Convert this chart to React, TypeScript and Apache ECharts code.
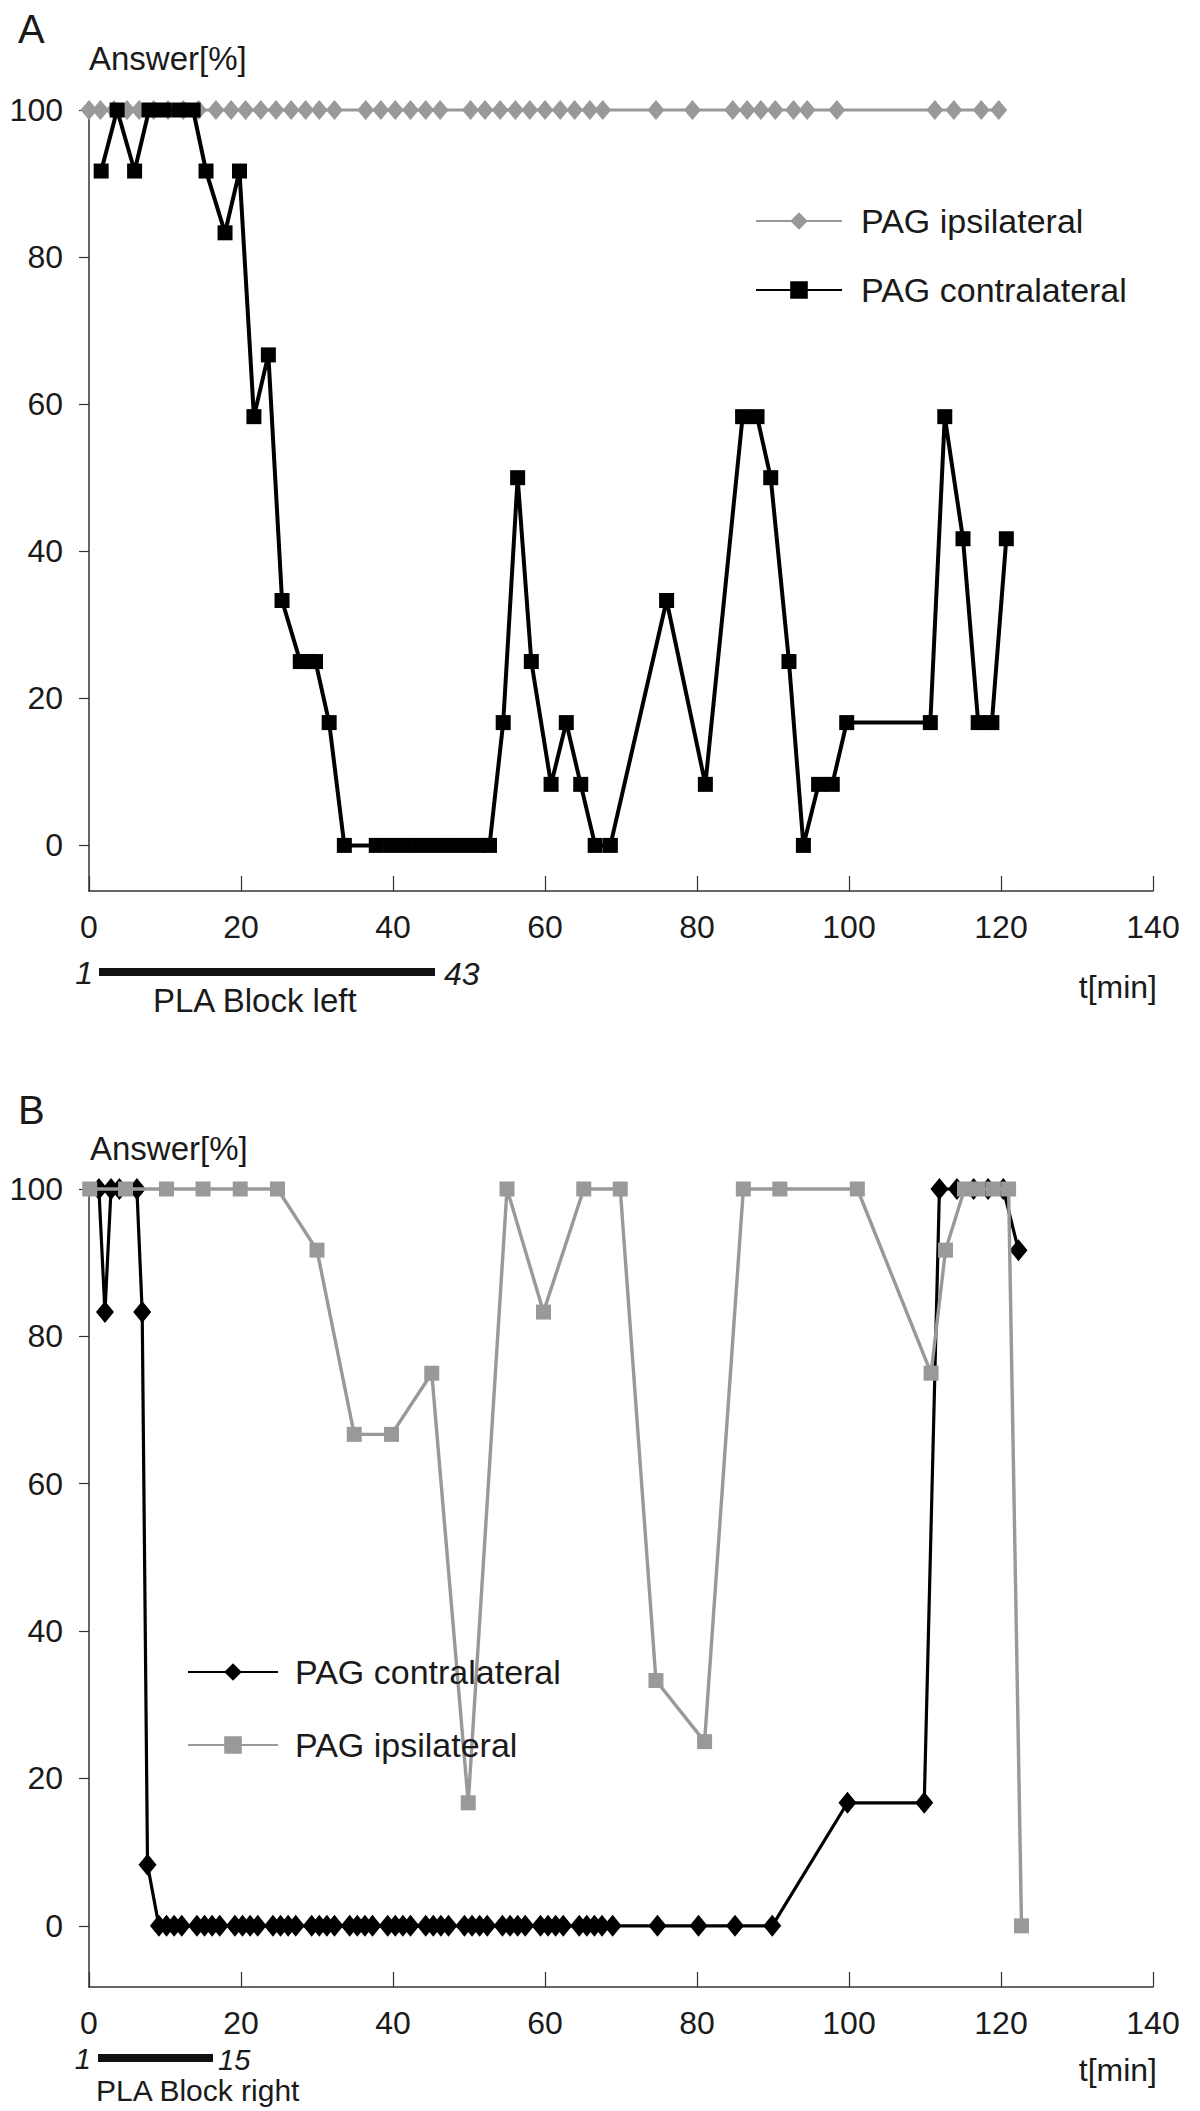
import React, { useEffect, useRef } from "react";
import * as echarts from "echarts";

const FONT = "'Liberation Sans', Arial, Helvetica, sans-serif";
const TEXT = "#1a1a1a";
const GREY = "#999999";
const BLACK = "#000000";

// ---------- Panel A (PLA block left) ----------
const ipsiA_t = [0, 1.5, 3.3, 5.0, 6.6, 8.5, 10.4, 12.4, 14.4, 16.7, 18.7, 20.6, 22.6, 24.6, 26.6, 28.5, 30.3, 32.3, 36.4, 38.4, 40.3, 42.3, 44.3, 46.2, 50.2, 52.1, 54.1, 56.1, 58.0, 60.0, 62.0, 63.9, 65.9, 67.6, 74.6, 79.4, 84.7, 86.6, 88.4, 90.3, 92.7, 94.5, 98.4, 111.3, 113.8, 117.4, 119.7];
const ipsiA_v = [100, 100, 100, 100, 100, 100, 100, 100, 100, 100, 100, 100, 100, 100, 100, 100, 100, 100, 100, 100, 100, 100, 100, 100, 100, 100, 100, 100, 100, 100, 100, 100, 100, 100, 100, 100, 100, 100, 100, 100, 100, 100, 100, 100, 100, 100, 100];

const contraA_t = [1.6, 3.7, 6.0, 7.9, 9.8, 11.8, 13.7, 15.4, 17.9, 19.8, 21.7, 23.6, 25.4, 27.8, 28.8, 29.8, 31.6, 33.6, 37.8, 39.7, 41.6, 43.5, 45.4, 47.3, 49.2, 51.1, 52.7, 54.5, 56.4, 58.2, 60.8, 62.8, 64.7, 66.6, 68.6, 76.0, 81.1, 86.0, 87.9, 89.7, 92.1, 94.0, 96.0, 97.8, 99.7, 110.7, 112.6, 115.0, 117.0, 118.8, 120.7];
const contraA_v = [91.7, 100, 91.7, 100, 100, 100, 100, 91.7, 83.3, 91.7, 58.3, 66.7, 33.3, 25, 25, 25, 16.7, 0, 0, 0, 0, 0, 0, 0, 0, 0, 0, 16.7, 50, 25, 8.3, 16.7, 8.3, 0, 0, 33.3, 8.3, 58.3, 58.3, 50, 25, 0, 8.3, 8.3, 16.7, 16.7, 58.3, 41.7, 16.7, 16.7, 41.7];

// ---------- Panel B (PLA block right) ----------
const contraB_t = [1.3, 2.1, 2.9, 4.0, 6.3, 7.0, 7.7, 9.2, 10.2, 11.2, 12.2, 14.2, 15.2, 16.2, 17.2, 19.2, 20.2, 21.2, 22.2, 24.2, 25.2, 26.2, 27.2, 29.3, 30.3, 31.3, 32.3, 34.3, 35.3, 36.3, 37.3, 39.3, 40.3, 41.3, 42.3, 44.3, 45.3, 46.3, 47.3, 49.4, 50.4, 51.4, 52.4, 54.4, 55.4, 56.4, 57.4, 59.4, 60.4, 61.4, 62.4, 64.5, 65.5, 66.5, 67.5, 68.9, 74.8, 80.2, 85.0, 89.9, 99.8, 109.9, 111.9, 114.2, 116.4, 118.3, 120.3, 122.3];
const contraB_v = [100, 83.3, 100, 100, 100, 83.3, 8.3, 0, 0, 0, 0, 0, 0, 0, 0, 0, 0, 0, 0, 0, 0, 0, 0, 0, 0, 0, 0, 0, 0, 0, 0, 0, 0, 0, 0, 0, 0, 0, 0, 0, 0, 0, 0, 0, 0, 0, 0, 0, 0, 0, 0, 0, 0, 0, 0, 0, 0, 0, 0, 0, 16.7, 16.7, 100, 100, 100, 100, 100, 91.7];

const ipsiB_t = [0.1, 4.8, 10.2, 15.0, 19.9, 24.8, 30.0, 34.9, 39.8, 45.1, 49.9, 55.0, 59.8, 65.1, 69.9, 74.6, 81.0, 86.1, 90.9, 101.1, 110.8, 112.7, 115.2, 117.0, 119.0, 121.0, 122.7];
const ipsiB_v = [100, 100, 100, 100, 100, 100, 91.7, 66.7, 66.7, 75, 16.7, 100, 83.3, 100, 100, 33.3, 25, 100, 100, 100, 75, 91.7, 100, 100, 100, 100, 0];

// ---------- Axes ----------
const xTickValues = [0, 20, 40, 60, 80, 100, 120, 140];
const yTickValues = [0, 20, 40, 60, 80, 100];
const xMin = 0;
const xMax = 140;
const yMinA = -6.2;
const yMinB = -8.3;
const yMax = 100;

const LEGEND_A = ["A|PAG ipsilateral", "A|PAG contralateral"];
const LEGEND_B = ["B|PAG contralateral", "B|PAG ipsilateral"];

const pairs = (t: number[], v: number[]) => t.map((x, i) => [x, v[i]]);

function xAxisCfg(gridIndex: number) {
  return {
    type: "value",
    gridIndex,
    min: xMin,
    max: xMax,
    interval: 20,
    axisLine: { show: true, onZero: false, lineStyle: { color: "#333", width: 1.5 } },
    axisTick: { show: true, inside: true, length: 15, lineStyle: { color: "#333", width: 1.2 } },
    axisLabel: {
      fontSize: 32,
      color: TEXT,
      margin: 20,
      fontFamily: FONT,
      formatter: (v: number) => (xTickValues.includes(v) ? String(v) : ""),
    },
    splitLine: { show: false },
  };
}

function yAxisCfg(gridIndex: number, min: number) {
  return {
    type: "value",
    gridIndex,
    min,
    max: yMax,
    axisLine: { show: true, onZero: false, lineStyle: { color: "#333", width: 1.5 } },
    axisTick: {
      show: true,
      inside: false,
      length: 10,
      customValues: yTickValues,
      lineStyle: { color: "#333", width: 1.2 },
    },
    axisLabel: {
      customValues: yTickValues,
      fontSize: 32,
      color: TEXT,
      margin: 26,
      fontFamily: FONT,
      formatter: (v: number) => (yTickValues.includes(v) ? String(v) : ""),
    },
    splitLine: { show: false },
  };
}

function txt(text: string, x: number, y: number, size: number, align = "left", italic = false) {
  return {
    type: "text",
    x,
    y,
    silent: true,
    style: {
      text,
      fill: TEXT,
      font: `${italic ? "italic " : ""}${size}px ${FONT}`,
      textAlign: align,
      textVerticalAlign: "middle",
      verticalAlign: "middle",
    },
  };
}

function bar(x1: number, x2: number, yc: number, h: number) {
  return {
    type: "rect",
    silent: true,
    shape: { x: x1, y: yc - h / 2, width: x2 - x1, height: h },
    style: { fill: "#111" },
  };
}

export default function App() {
  const ref = useRef<HTMLDivElement>(null);

  useEffect(() => {
    if (!ref.current) return;
    const chart = echarts.init(ref.current, undefined, { renderer: "svg" });

    const legendText = { fontSize: 34, color: TEXT, fontFamily: FONT, lineHeight: 34 };

    const option: any = {
      animation: false,
      backgroundColor: "#ffffff",
      grid: [
        { left: 89, top: 110, width: 1064, height: 781 },
        { left: 89, top: 1189, width: 1064, height: 798 },
      ],
      xAxis: [xAxisCfg(0), xAxisCfg(1)],
      yAxis: [yAxisCfg(0, yMinA), yAxisCfg(1, yMinB)],
      legend: [
        {
          data: LEGEND_A,
          orient: "vertical",
          left: 750,
          top: 199,
          itemWidth: 86,
          itemHeight: 22,
          itemGap: 35,
          selectedMode: false,
          formatter: (n: string) => n.slice(2),
          textStyle: { ...legendText, padding: [0, 0, 0, 14] },
        },
        {
          data: LEGEND_B,
          orient: "vertical",
          left: 182,
          top: 1650,
          itemWidth: 90,
          itemHeight: 22,
          itemGap: 39,
          selectedMode: false,
          formatter: (n: string) => n.slice(2),
          textStyle: { ...legendText, padding: [0, 0, 0, 12] },
        },
      ],
      series: [
        {
          name: LEGEND_A[0],
          type: "line",
          xAxisIndex: 0,
          yAxisIndex: 0,
          data: pairs(ipsiA_t, ipsiA_v),
          symbol: "diamond",
          symbolSize: [17, 20],
          showAllSymbol: true,
          clip: false,
          lineStyle: { color: GREY, width: 3.2 },
          itemStyle: { color: GREY },
          emphasis: { disabled: true },
          z: 2,
        },
        {
          name: LEGEND_A[1],
          type: "line",
          xAxisIndex: 0,
          yAxisIndex: 0,
          data: pairs(contraA_t, contraA_v),
          symbol: "rect",
          symbolSize: 15,
          showAllSymbol: true,
          clip: false,
          lineStyle: { color: BLACK, width: 4 },
          itemStyle: { color: BLACK },
          emphasis: { disabled: true },
          z: 3,
        },
        {
          name: LEGEND_B[0],
          type: "line",
          xAxisIndex: 1,
          yAxisIndex: 1,
          data: pairs(contraB_t, contraB_v),
          symbol: "diamond",
          symbolSize: [18, 22],
          showAllSymbol: true,
          clip: false,
          lineStyle: { color: BLACK, width: 3.2 },
          itemStyle: { color: BLACK },
          emphasis: { disabled: true },
          z: 2,
        },
        {
          name: LEGEND_B[1],
          type: "line",
          xAxisIndex: 1,
          yAxisIndex: 1,
          data: pairs(ipsiB_t, ipsiB_v),
          symbol: "rect",
          symbolSize: 15,
          showAllSymbol: true,
          clip: false,
          lineStyle: { color: GREY, width: 3.4 },
          itemStyle: { color: GREY },
          emphasis: { disabled: true },
          z: 3,
        },
      ],
      graphic: [
        txt("A", 18, 29, 40),
        txt("Answer[%]", 89, 58, 33),
        txt("t[min]", 1157, 987, 32, "right"),
        txt("1", 93, 973, 32, "right", true),
        bar(99, 435, 972, 8),
        txt("43", 444, 974, 32, "left", true),
        txt("PLA Block left", 153, 1000, 33),

        txt("B", 18, 1110, 40),
        txt("Answer[%]", 90, 1148, 33),
        txt("t[min]", 1157, 2070, 32, "right"),
        txt("1", 91, 2059, 29, "right", true),
        bar(98, 213, 2058, 8),
        txt("15", 218, 2060, 29, "left", true),
        txt("PLA Block right", 96, 2090, 30),
      ],
    };

    chart.setOption(option);
    return () => chart.dispose();
  }, []);

  return (
    <div
      ref={ref}
      style={{ position: "absolute", left: 0, top: 0, width: 1200, height: 2111, background: "#fff" }}
    />
  );
}
